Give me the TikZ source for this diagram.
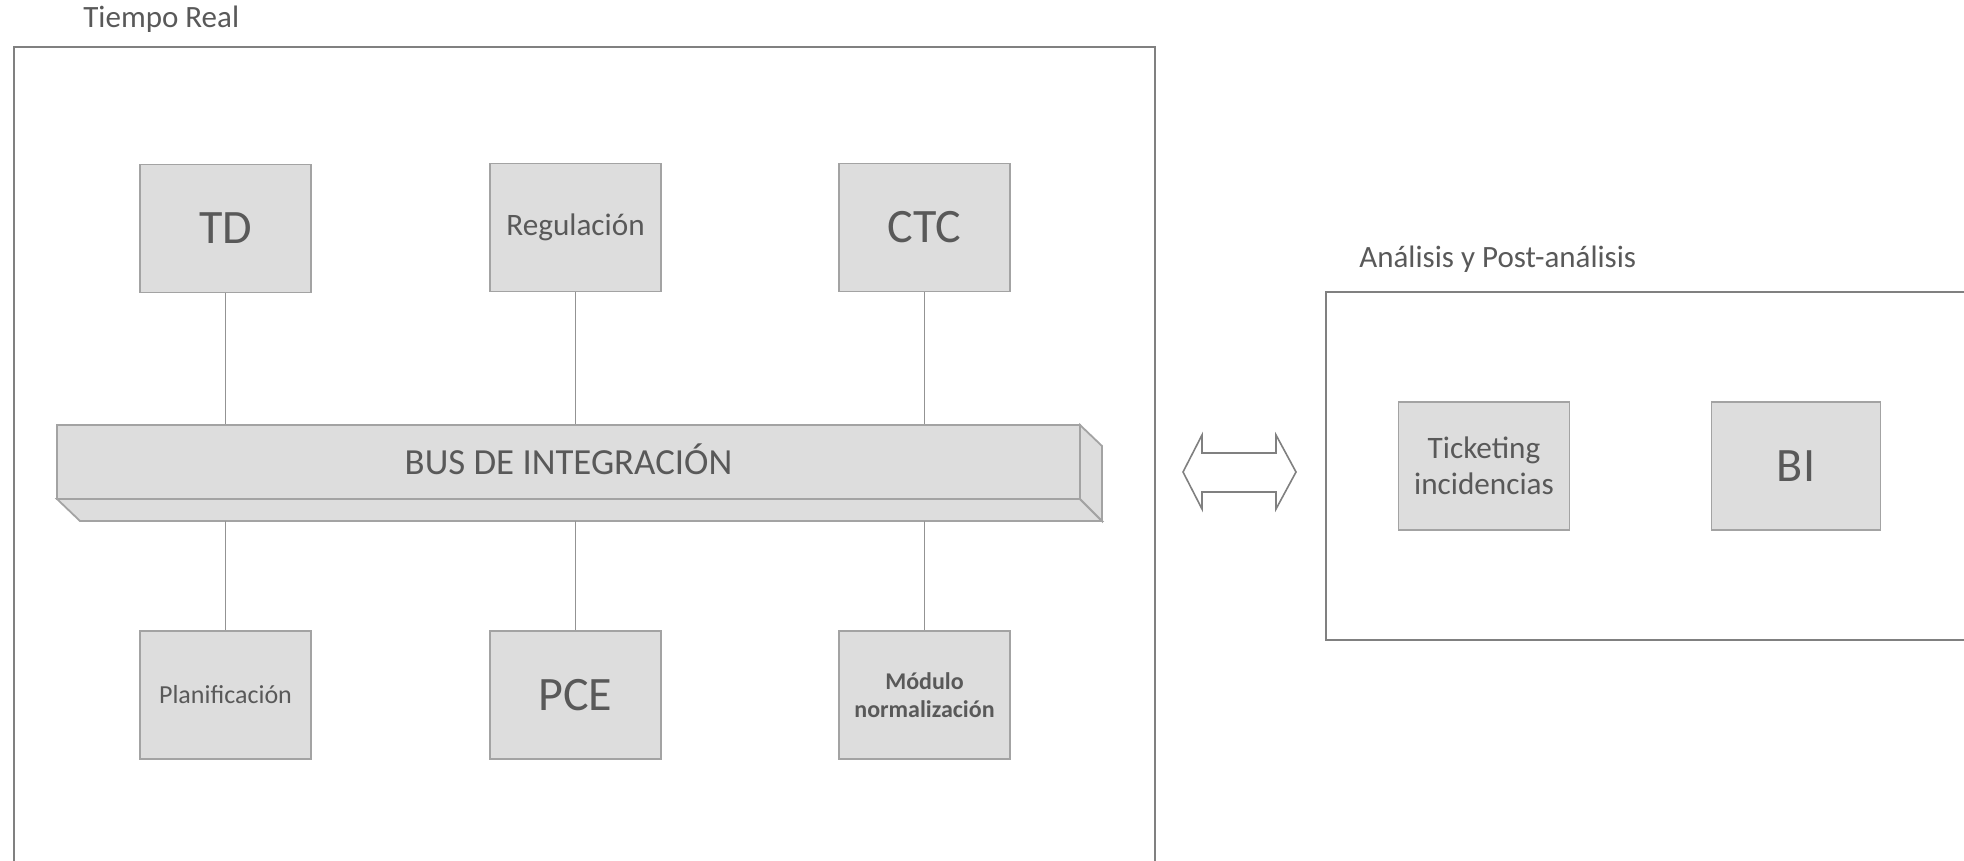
\documentclass[tikz,border=0pt]{standalone}
\usepackage{fontspec}
\setmainfont{Carlito}
\definecolor{txt}{HTML}{595959}
\definecolor{boxfill}{HTML}{DDDDDD}
\definecolor{boxline}{HTML}{A3A3A3}
\definecolor{frameline}{HTML}{808080}
\tikzset{
  px/.style={x=0.5pt,y=-0.5pt},
  frame/.style={draw=frameline,line width=1pt},
  comp/.style={draw=boxline,fill=boxfill,line width=0.9pt,text=txt,align=center,inner sep=0pt,minimum width=85.5pt,minimum height=64pt},
  link/.style={draw=boxline!90!black,line width=0.7pt},
  title/.style={text=txt,font=\fontsize{15.5}{18}\selectfont,inner sep=0pt,anchor=west},
  big/.style={font=\fontsize{24}{28}\selectfont},
}
\begin{document}
\begin{tikzpicture}[px]
\useasboundingbox (0,0) rectangle (1964,861);
\clip (0,0) rectangle (1964,861);
% containers
\draw[frame] (14,47) rectangle (1155,900);
\node[title] (t1) at (83,19) {Tiempo Real};
\draw[frame] (1326,292) rectangle (2000,640);
\node[title] (t2) at (1359,259) {Análisis y Post-análisis};
% bus
\draw[draw=boxline,fill=boxfill,line width=0.9pt] (57,499) -- (1080,499) -- (1102,521) -- (80,521) -- cycle;
\draw[draw=boxline,fill=boxfill,line width=0.9pt] (1080,425) -- (1102,446) -- (1102,521) -- (1080,499) -- cycle;
\node[draw=boxline,fill=boxfill,line width=1pt,inner sep=0pt,minimum width=511.5pt,minimum height=37pt] (bus) at (568.5,462) {};
\node[text=txt,font=\fontsize{18.4}{21}\selectfont,inner sep=0pt] (bustext) at ([yshift=1.5pt]bus.center) {BUS DE INTEGRACIÓN};
\coordinate (busbot) at (568.5,521);
% components
\node[comp,big] (td) at (225.5,228.5) {TD};
\node[comp,font=\fontsize{15.6}{18}\selectfont] (reg) at (575.5,227.5) {Regulación};
\node[comp,big] (ctc) at (924.5,227.5) {CTC};
\node[comp,font=\fontsize{13}{15}\selectfont] (plan) at (225.5,695) {Planificación};
\node[comp,big] (pce) at (575.5,695) {PCE};
\node[comp,font=\fontsize{12}{14}\bfseries\selectfont] (mod) at (924.5,695) {Módulo\\normalización};
\node[comp,font=\fontsize{15.6}{18}\selectfont] (tick) at (1484,466) {Ticketing\\incidencias};
\node[comp,minimum width=84.5pt,big] (bi) at (1796,466) {BI};
% links
\draw[link] (td.south) -- (td.south |- bus.north);
\draw[link] (reg.south) -- (reg.south |- bus.north);
\draw[link] (ctc.south) -- (ctc.south |- bus.north);
\draw[link] (plan.north) -- (plan.north |- busbot);
\draw[link] (pce.north) -- (pce.north |- busbot);
\draw[link] (mod.north) -- (mod.north |- busbot);
% double arrow
\draw[draw=frameline,fill=white,line width=0.8pt,line join=miter]
  (1183,472) -- (1202,435) -- (1202,453) -- (1276,453) -- (1276,435) -- (1296,472)
  -- (1276,509) -- (1276,492) -- (1202,492) -- (1202,509) -- cycle;
\end{tikzpicture}
\end{document}
